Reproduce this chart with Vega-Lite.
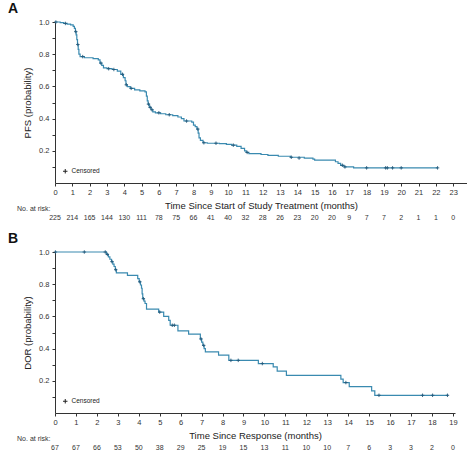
{
  "$schema": "https://vega.github.io/schema/vega-lite/v6.json",
  "background": "white",
  "padding": {"left": 8, "top": 2, "right": 0, "bottom": 0},
  "spacing": 20,
  "bounds": "flush",
  "resolve": {"scale": {"shape": "independent"}, "legend": {"shape": "independent"}},
  "config": {
    "view": {"stroke": null},
    "font": "Liberation Sans",
    "axis": {
      "grid": false,
      "domainColor": "#333",
      "tickColor": "#333",
      "tickSize": 3,
      "labelColor": "#333",
      "labelFontSize": 7.5,
      "labelPadding": 2,
      "labelFlush": false,
      "labelOverlap": false,
      "titleFont": "Liberation Sans",
      "titleFontSize": 9.5,
      "titleFontWeight": "normal",
      "titleColor": "#222"
    },
    "title": {"fontSize": 14, "fontWeight": "bold", "font": "Liberation Sans", "color": "#111", "anchor": "start", "frame": "group", "dx": -47, "offset": 2}
  },
  "datasets": {
    "pfs": [
      {"t": 0, "s": 1.0}, {"t": 0.3, "s": 0.996}, {"t": 0.5, "s": 0.991}, {"t": 0.7, "s": 0.987}, {"t": 0.9, "s": 0.982},
      {"t": 1.05, "s": 0.973}, {"t": 1.12, "s": 0.96}, {"t": 1.18, "s": 0.94}, {"t": 1.22, "s": 0.92}, {"t": 1.26, "s": 0.89},
      {"t": 1.3, "s": 0.86}, {"t": 1.34, "s": 0.83}, {"t": 1.38, "s": 0.8}, {"t": 1.45, "s": 0.785}, {"t": 1.7, "s": 0.778},
      {"t": 2.2, "s": 0.773}, {"t": 2.5, "s": 0.765}, {"t": 2.6, "s": 0.745}, {"t": 2.7, "s": 0.73}, {"t": 2.8, "s": 0.715},
      {"t": 3.0, "s": 0.71}, {"t": 3.3, "s": 0.705}, {"t": 3.6, "s": 0.695}, {"t": 3.8, "s": 0.675}, {"t": 3.95, "s": 0.655},
      {"t": 4.05, "s": 0.635}, {"t": 4.1, "s": 0.61}, {"t": 4.18, "s": 0.598}, {"t": 4.35, "s": 0.588}, {"t": 4.6, "s": 0.578},
      {"t": 4.9, "s": 0.572}, {"t": 5.2, "s": 0.566}, {"t": 5.28, "s": 0.54}, {"t": 5.33, "s": 0.51}, {"t": 5.38, "s": 0.49},
      {"t": 5.45, "s": 0.47}, {"t": 5.55, "s": 0.455}, {"t": 5.65, "s": 0.442}, {"t": 5.8, "s": 0.436}, {"t": 6.1, "s": 0.43},
      {"t": 6.4, "s": 0.424}, {"t": 6.8, "s": 0.418}, {"t": 7.1, "s": 0.41}, {"t": 7.3, "s": 0.4}, {"t": 7.45, "s": 0.385},
      {"t": 7.9, "s": 0.378}, {"t": 8.0, "s": 0.36}, {"t": 8.1, "s": 0.35}, {"t": 8.2, "s": 0.335}, {"t": 8.27, "s": 0.31},
      {"t": 8.32, "s": 0.28}, {"t": 8.4, "s": 0.265}, {"t": 8.55, "s": 0.25}, {"t": 8.8, "s": 0.247}, {"t": 9.5, "s": 0.245},
      {"t": 9.9, "s": 0.24}, {"t": 10.2, "s": 0.235}, {"t": 10.5, "s": 0.228}, {"t": 10.75, "s": 0.215}, {"t": 10.95, "s": 0.2},
      {"t": 11.05, "s": 0.19}, {"t": 11.2, "s": 0.183}, {"t": 11.9, "s": 0.177}, {"t": 12.3, "s": 0.172}, {"t": 12.9, "s": 0.166},
      {"t": 13.6, "s": 0.16}, {"t": 14.4, "s": 0.155}, {"t": 14.9, "s": 0.148}, {"t": 15.0, "s": 0.142}, {"t": 16.2, "s": 0.132},
      {"t": 16.35, "s": 0.122}, {"t": 16.5, "s": 0.11}, {"t": 16.7, "s": 0.1}, {"t": 17.25, "s": 0.094}, {"t": 22.1, "s": 0.094}
    ],
    "pfsCens": [
      {"t": 0.05, "s": 1.0, "status": "Censored"}, {"t": 0.6, "s": 0.991, "status": "Censored"}, {"t": 1.2, "s": 0.94, "status": "Censored"},
      {"t": 1.32, "s": 0.86, "status": "Censored"}, {"t": 1.6, "s": 0.785, "status": "Censored"}, {"t": 2.65, "s": 0.745, "status": "Censored"},
      {"t": 3.1, "s": 0.71, "status": "Censored"}, {"t": 3.4, "s": 0.705, "status": "Censored"}, {"t": 3.9, "s": 0.675, "status": "Censored"},
      {"t": 4.12, "s": 0.61, "status": "Censored"}, {"t": 4.4, "s": 0.588, "status": "Censored"}, {"t": 5.4, "s": 0.49, "status": "Censored"},
      {"t": 5.5, "s": 0.47, "status": "Censored"}, {"t": 5.6, "s": 0.455, "status": "Censored"}, {"t": 6.0, "s": 0.436, "status": "Censored"},
      {"t": 6.6, "s": 0.424, "status": "Censored"}, {"t": 7.6, "s": 0.385, "status": "Censored"}, {"t": 8.25, "s": 0.335, "status": "Censored"},
      {"t": 8.6, "s": 0.25, "status": "Censored"}, {"t": 9.3, "s": 0.247, "status": "Censored"}, {"t": 10.3, "s": 0.235, "status": "Censored"},
      {"t": 11.1, "s": 0.19, "status": "Censored"}, {"t": 13.65, "s": 0.16, "status": "Censored"}, {"t": 14.1, "s": 0.155, "status": "Censored"},
      {"t": 16.6, "s": 0.11, "status": "Censored"}, {"t": 16.75, "s": 0.1, "status": "Censored"}, {"t": 18.0, "s": 0.094, "status": "Censored"},
      {"t": 19.1, "s": 0.094, "status": "Censored"}, {"t": 19.2, "s": 0.094, "status": "Censored"}, {"t": 19.5, "s": 0.094, "status": "Censored"},
      {"t": 20.0, "s": 0.094, "status": "Censored"}, {"t": 22.1, "s": 0.094, "status": "Censored"}
    ],
    "pfsRisk": [
      {"t": 0, "n": 225, "label": "No. at risk:"}, {"t": 1, "n": 214, "label": "No. at risk:"}, {"t": 2, "n": 165, "label": "No. at risk:"},
      {"t": 3, "n": 144, "label": "No. at risk:"}, {"t": 4, "n": 130, "label": "No. at risk:"}, {"t": 5, "n": 111, "label": "No. at risk:"},
      {"t": 6, "n": 78, "label": "No. at risk:"}, {"t": 7, "n": 75, "label": "No. at risk:"}, {"t": 8, "n": 66, "label": "No. at risk:"},
      {"t": 9, "n": 41, "label": "No. at risk:"}, {"t": 10, "n": 40, "label": "No. at risk:"}, {"t": 11, "n": 32, "label": "No. at risk:"},
      {"t": 12, "n": 28, "label": "No. at risk:"}, {"t": 13, "n": 26, "label": "No. at risk:"}, {"t": 14, "n": 23, "label": "No. at risk:"},
      {"t": 15, "n": 20, "label": "No. at risk:"}, {"t": 16, "n": 20, "label": "No. at risk:"}, {"t": 17, "n": 9, "label": "No. at risk:"},
      {"t": 18, "n": 7, "label": "No. at risk:"}, {"t": 19, "n": 7, "label": "No. at risk:"}, {"t": 20, "n": 2, "label": "No. at risk:"},
      {"t": 21, "n": 1, "label": "No. at risk:"}, {"t": 22, "n": 1, "label": "No. at risk:"}, {"t": 23, "n": 0, "label": "No. at risk:"}
    ],
    "dor": [
      {"t": 0, "s": 1.0}, {"t": 2.46, "s": 0.985}, {"t": 2.55, "s": 0.97}, {"t": 2.62, "s": 0.955}, {"t": 2.7, "s": 0.94},
      {"t": 2.76, "s": 0.925}, {"t": 2.82, "s": 0.91}, {"t": 2.88, "s": 0.89}, {"t": 2.93, "s": 0.87}, {"t": 3.46, "s": 0.855},
      {"t": 3.95, "s": 0.835}, {"t": 4.02, "s": 0.815}, {"t": 4.08, "s": 0.795}, {"t": 4.13, "s": 0.775}, {"t": 4.16, "s": 0.74},
      {"t": 4.19, "s": 0.71}, {"t": 4.25, "s": 0.695}, {"t": 4.3, "s": 0.68}, {"t": 4.37, "s": 0.645}, {"t": 4.95, "s": 0.627},
      {"t": 5.19, "s": 0.6}, {"t": 5.43, "s": 0.575}, {"t": 5.5, "s": 0.545}, {"t": 5.87, "s": 0.51}, {"t": 6.38, "s": 0.49},
      {"t": 6.94, "s": 0.46}, {"t": 7.0, "s": 0.44}, {"t": 7.06, "s": 0.42}, {"t": 7.12, "s": 0.4}, {"t": 7.18, "s": 0.38},
      {"t": 7.81, "s": 0.36}, {"t": 8.3, "s": 0.327}, {"t": 9.71, "s": 0.307}, {"t": 10.42, "s": 0.287}, {"t": 10.61, "s": 0.26},
      {"t": 11.05, "s": 0.234}, {"t": 13.65, "s": 0.21}, {"t": 13.76, "s": 0.189}, {"t": 14.05, "s": 0.164}, {"t": 15.12, "s": 0.138},
      {"t": 15.27, "s": 0.11}, {"t": 18.78, "s": 0.11}
    ],
    "dorCens": [
      {"t": 0.02, "s": 1.0, "status": "Censored"}, {"t": 1.4, "s": 1.0, "status": "Censored"}, {"t": 2.4, "s": 1.0, "status": "Censored"},
      {"t": 2.5, "s": 0.985, "status": "Censored"}, {"t": 2.72, "s": 0.94, "status": "Censored"}, {"t": 2.9, "s": 0.89, "status": "Censored"},
      {"t": 4.05, "s": 0.815, "status": "Censored"}, {"t": 4.22, "s": 0.71, "status": "Censored"}, {"t": 5.0, "s": 0.627, "status": "Censored"},
      {"t": 5.6, "s": 0.545, "status": "Censored"}, {"t": 5.7, "s": 0.545, "status": "Censored"}, {"t": 6.97, "s": 0.46, "status": "Censored"},
      {"t": 7.1, "s": 0.42, "status": "Censored"}, {"t": 8.4, "s": 0.327, "status": "Censored"}, {"t": 8.75, "s": 0.327, "status": "Censored"},
      {"t": 9.9, "s": 0.307, "status": "Censored"}, {"t": 13.89, "s": 0.189, "status": "Censored"}, {"t": 15.47, "s": 0.11, "status": "Censored"},
      {"t": 17.55, "s": 0.11, "status": "Censored"}, {"t": 18.03, "s": 0.11, "status": "Censored"}, {"t": 18.74, "s": 0.11, "status": "Censored"}
    ],
    "dorRisk": [
      {"t": 0, "n": 67, "label": "No. at risk:"}, {"t": 1, "n": 67, "label": "No. at risk:"}, {"t": 2, "n": 66, "label": "No. at risk:"},
      {"t": 3, "n": 53, "label": "No. at risk:"}, {"t": 4, "n": 50, "label": "No. at risk:"}, {"t": 5, "n": 38, "label": "No. at risk:"},
      {"t": 6, "n": 29, "label": "No. at risk:"}, {"t": 7, "n": 25, "label": "No. at risk:"}, {"t": 8, "n": 19, "label": "No. at risk:"},
      {"t": 9, "n": 15, "label": "No. at risk:"}, {"t": 10, "n": 13, "label": "No. at risk:"}, {"t": 11, "n": 11, "label": "No. at risk:"},
      {"t": 12, "n": 10, "label": "No. at risk:"}, {"t": 13, "n": 10, "label": "No. at risk:"}, {"t": 14, "n": 7, "label": "No. at risk:"},
      {"t": 15, "n": 6, "label": "No. at risk:"}, {"t": 16, "n": 3, "label": "No. at risk:"}, {"t": 17, "n": 3, "label": "No. at risk:"},
      {"t": 18, "n": 2, "label": "No. at risk:"}, {"t": 19, "n": 0, "label": "No. at risk:"}
    ]
  },
  "vconcat": [
    {
      "title": {"text": "A"},
      "width": 412,
      "height": 161,
      "encoding": {
        "x": {"field": "t", "type": "quantitative", "scale": {"domain": [0, 23.8]},
              "axis": {"values": [0,1,2,3,4,5,6,7,8,9,10,11,12,13,14,15,16,17,18,19,20,21,22,23], "labelOverlap": false, "title": "Time Since Start of Study Treatment (months)", "titlePadding": 5}},
        "y": {"field": "s", "type": "quantitative", "scale": {"domain": [0, 1]},
              "axis": {"values": [0.1,0.2,0.3,0.4,0.5,0.6,0.7,0.8,0.9,1.0], "labelOverlap": false, "labelExpr": "round(datum.value*10) % 2 == 0 ? format(datum.value, '.1f') : ''", "title": "PFS (probability)", "titlePadding": 6, "labelPadding": 3}}
      },
      "layer": [
        {
          "data": {"name": "pfs"},
          "mark": {"type": "line", "interpolate": "step-after", "color": "#3a8ab0", "strokeWidth": 1.2}
        },
        {
          "data": {"name": "pfsCens"},
          "mark": {"type": "point", "filled": false, "stroke": "#24597a", "strokeWidth": 0.9, "size": 12, "opacity": 1},
          "encoding": {
            "shape": {"field": "status", "type": "nominal", "scale": {"range": ["M0,-1V1M-1,0H1"]},
                      "legend": {"orient": "bottom-left", "title": null, "offset": 7, "padding": 0, "labelFontSize": 6.5, "labelColor": "#222", "symbolSize": 20, "symbolStrokeColor": "#222", "symbolStrokeWidth": 1, "labelOffset": 3}}
          }
        }
      ]
    },
    {
      "width": 412,
      "height": 29,
      "data": {"name": "pfsRisk"},
      "mark": {"type": "text", "fontSize": 7, "color": "#333"},
      "encoding": {
        "x": {"field": "t", "type": "quantitative", "scale": {"domain": [0, 23.8]}, "axis": null},
        "y": {"field": "label", "type": "nominal", "scale": {"align": 0.52},
              "axis": {"title": null, "domain": false, "ticks": false, "labelOffset": -10, "labelFontSize": 7, "labelPadding": 5, "labelColor": "#333"}},
        "text": {"field": "n", "type": "quantitative"}
      }
    },
    {
      "title": {"text": "B"},
      "width": 400,
      "height": 161,
      "encoding": {
        "x": {"field": "t", "type": "quantitative", "scale": {"domain": [0, 19.1]},
              "axis": {"values": [0,1,2,3,4,5,6,7,8,9,10,11,12,13,14,15,16,17,18,19], "labelOverlap": false, "title": "Time Since Response (months)", "titlePadding": 5}},
        "y": {"field": "s", "type": "quantitative", "scale": {"domain": [0, 1]},
              "axis": {"values": [0.1,0.2,0.3,0.4,0.5,0.6,0.7,0.8,0.9,1.0], "labelOverlap": false, "labelExpr": "round(datum.value*10) % 2 == 0 ? format(datum.value, '.1f') : ''", "title": "DOR (probability)", "titlePadding": 6, "labelPadding": 3}}
      },
      "layer": [
        {
          "data": {"name": "dor"},
          "mark": {"type": "line", "interpolate": "step-after", "color": "#3a8ab0", "strokeWidth": 1.2}
        },
        {
          "data": {"name": "dorCens"},
          "mark": {"type": "point", "filled": false, "stroke": "#24597a", "strokeWidth": 0.9, "size": 12, "opacity": 1},
          "encoding": {
            "shape": {"field": "status", "type": "nominal", "scale": {"range": ["M0,-1V1M-1,0H1"]},
                      "legend": {"orient": "bottom-left", "title": null, "offset": 7, "padding": 0, "labelFontSize": 6.5, "labelColor": "#222", "symbolSize": 20, "symbolStrokeColor": "#222", "symbolStrokeWidth": 1, "labelOffset": 3}}
          }
        }
      ]
    },
    {
      "width": 400,
      "height": 29,
      "data": {"name": "dorRisk"},
      "mark": {"type": "text", "fontSize": 7, "color": "#333"},
      "encoding": {
        "x": {"field": "t", "type": "quantitative", "scale": {"domain": [0, 19.1]}, "axis": null},
        "y": {"field": "label", "type": "nominal", "scale": {"align": 0.52},
              "axis": {"title": null, "domain": false, "ticks": false, "labelOffset": -10, "labelFontSize": 7, "labelPadding": 5, "labelColor": "#333"}},
        "text": {"field": "n", "type": "quantitative"}
      }
    }
  ]
}
